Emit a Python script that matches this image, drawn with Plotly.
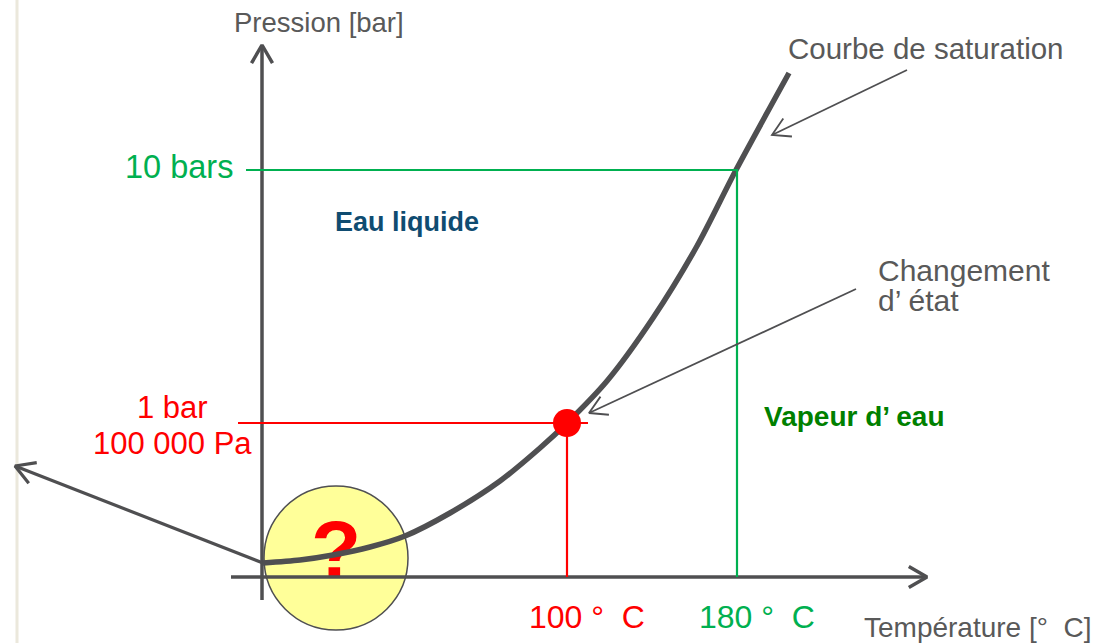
import math
import plotly.graph_objects as go

# ---------------- data (schematic units: origin of the diagram at 0,0) ----------------
curve_T = [1, 38, 71, 108, 143, 188, 238, 278, 305, 345, 391, 435, 474, 527]
curve_P = [14, 17, 22, 30, 41, 64, 96, 129, 154, 196, 259, 331, 407, 504]

temp_labels = ["100 °  C", "180 °  C"]
temp_pos = [305, 475]
press_labels = [["1 bar", "100 000 Pa"], ["10 bars"]]
press_pos = [154, 407]
level_colors = ["#ff0000", "#00b050"]

x_axis_span = [-31, 665]
y_axis_span = [-23, 532]
low_arrow_tail = [1, 14]
low_arrow_tip = [-247, 111]
circle_center = [74, 19]
circle_radius = 72

GRAY = "#4f4f51"
TXT = "#595959"
FONT = "Liberation Sans, Arial, sans-serif"

fig = go.Figure()

def chevron(tip, tail, length=21, angle=30):
    dx, dy = tail[0] - tip[0], tail[1] - tip[1]
    n = math.hypot(dx, dy)
    ux, uy = dx / n, dy / n
    pts = []
    for s in (1, -1):
        a = math.radians(angle) * s
        rx = ux * math.cos(a) - uy * math.sin(a)
        ry = ux * math.sin(a) + uy * math.cos(a)
        pts.append((tip[0] + rx * length, tip[1] + ry * length))
    return [pts[0][0], tip[0], pts[1][0]], [pts[0][1], tip[1], pts[1][1]]

def add_line(xs, ys, color, width):
    fig.add_trace(go.Scatter(x=xs, y=ys, mode="lines", hoverinfo="skip",
                             line=dict(color=color, width=width)))

# question mark (below the lines)
fig.add_trace(go.Scatter(x=[circle_center[0]], y=[circle_center[1] + 1], mode="text",
                         text=["<b>?</b>"], textposition="middle center", hoverinfo="skip",
                         textfont=dict(family=FONT, size=82, color="#ff0000")))

# axes
add_line(x_axis_span, [0, 0], GRAY, 3.5)
cx, cy = chevron([x_axis_span[1], 0], [0, 0])
add_line(cx, cy, GRAY, 3.5)
add_line([0, 0], y_axis_span, GRAY, 3.5)
cx, cy = chevron([0, y_axis_span[1]], [0, 0])
add_line(cx, cy, GRAY, 3.5)

# arrow to the low-pressure region
add_line([low_arrow_tail[0], low_arrow_tip[0]], [low_arrow_tail[1], low_arrow_tip[1]], GRAY, 3.2)
cx, cy = chevron(low_arrow_tip, low_arrow_tail, length=22)
add_line(cx, cy, GRAY, 3.2)

# saturation curve
fig.add_trace(go.Scatter(x=curve_T, y=curve_P, mode="lines", hoverinfo="skip",
                         line=dict(color=GRAY, width=5.5, shape="spline", smoothing=0.8)))

# reference lines (1 bar / 100 °C  and  10 bars / 180 °C)
add_line([-24, temp_pos[0] + 21, None, temp_pos[0], temp_pos[0]],
         [press_pos[0], press_pos[0], None, press_pos[0], 0], level_colors[0], 2.2)
add_line([-16, temp_pos[1], temp_pos[1]], [press_pos[1], press_pos[1], 0], level_colors[1], 2.2)

# state change point
fig.add_trace(go.Scatter(x=[temp_pos[0]], y=[press_pos[0]], mode="markers", hoverinfo="skip",
                         marker=dict(color="#ff0000", size=28, line=dict(width=0))))

# thin annotation arrows
sat_tail, sat_tip = [645, 507], [510, 442]
add_line([sat_tail[0], sat_tip[0]], [sat_tail[1], sat_tip[1]], GRAY, 1.8)
cx, cy = chevron(sat_tip, sat_tail, length=20)
add_line(cx, cy, GRAY, 1.8)
chg_tail, chg_tip = [594, 288], [327, 164]
add_line([chg_tail[0], chg_tip[0]], [chg_tail[1], chg_tip[1]], GRAY, 1.8)
cx, cy = chevron(chg_tip, chg_tail, length=20)
add_line(cx, cy, GRAY, 1.8)

# yellow circle (behind everything)
fig.add_shape(type="circle", layer="below",
              x0=circle_center[0] - circle_radius, x1=circle_center[0] + circle_radius,
              y0=circle_center[1] - circle_radius, y1=circle_center[1] + circle_radius,
              fillcolor="#ffff99", line=dict(color=GRAY, width=1.5))

# slide edge line
fig.add_shape(type="line", layer="below", xref="x", yref="paper",
              x0=-245, x1=-245, y0=0, y1=1, line=dict(color="#ebe8dc", width=3))

def note(x, y, text, color, size, xanchor="center", bold=False):
    fig.add_annotation(x=x, y=y, text=("<b>%s</b>" % text) if bold else text,
                       showarrow=False, xanchor=xanchor, yanchor="middle",
                       font=dict(family=FONT, size=size, color=color))

note(57, 555, "Pression [bar]", TXT, 27.5)
note(716, -50, "Température [°  C]", TXT, 28)
note(664, 529, "Courbe de saturation", TXT, 29.5)
note(614, 307, "Changement", TXT, 30, xanchor="left")
note(614, 277, "d’ état", TXT, 30, xanchor="left")
note(145, 355, "Eau liquide", "#0f4c71", 27, bold=True)
note(592, 161, "Vapeur d’ eau", "#008000", 28, bold=True)
note(-27, press_pos[1] + 3, press_labels[1][0], level_colors[1], 32.5, xanchor="right")
note(-90, press_pos[0] + 16, press_labels[0][0], level_colors[0], 31)
note(-90, press_pos[0] - 20, press_labels[0][1], level_colors[0], 31)
note(temp_pos[0] + 20, -40, temp_labels[0], level_colors[0], 32)
note(temp_pos[1] + 20, -40, temp_labels[1], level_colors[1], 32)

fig.update_layout(
    width=1110, height=643, margin=dict(l=0, r=0, t=0, b=0),
    paper_bgcolor="white", plot_bgcolor="white", showlegend=False,
    xaxis=dict(range=[-262, 848], visible=False, fixedrange=True),
    yaxis=dict(range=[-66, 577], visible=False, fixedrange=True),
)

fig.write_html("out.html", post_script="document.body.style.margin='0';document.body.style.overflow='hidden';",
               config={"displayModeBar": False})
